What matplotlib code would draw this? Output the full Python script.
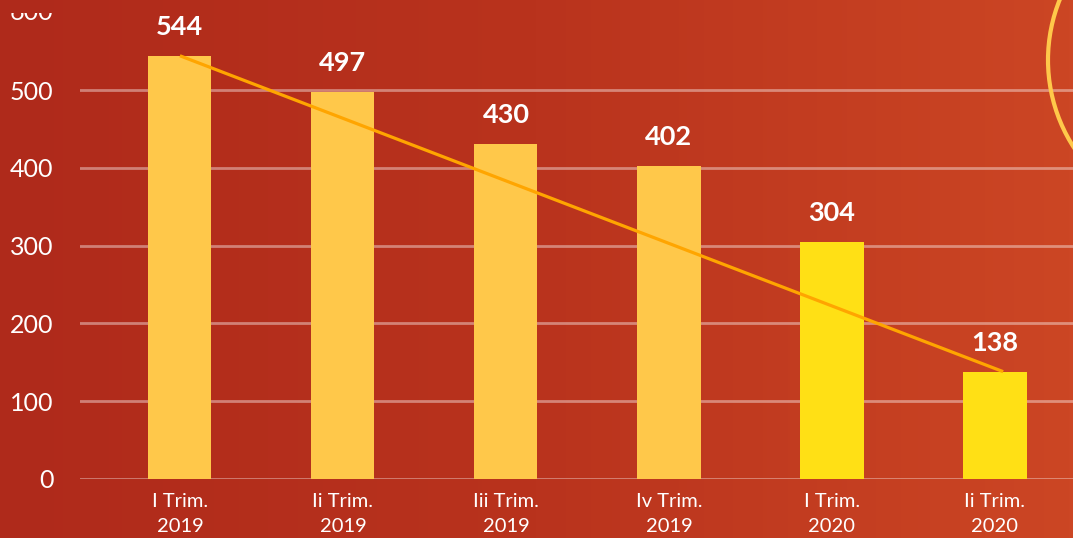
import numpy as np
import matplotlib
matplotlib.use("Agg")
import matplotlib.pyplot as plt
from matplotlib.patches import Circle
from matplotlib.transforms import Bbox
from matplotlib.colors import LinearSegmentedColormap

categories = ["I Trim.\n2019", "Ii Trim.\n2019", "Iii Trim.\n2019",
              "Iv Trim.\n2019", "I Trim.\n2020", "Ii Trim.\n2020"]
values = [544, 497, 430, 402, 304, 138]
bar_colors = ["#FFC84A", "#FFC84A", "#FFC84A", "#FFC84A", "#FFE015", "#FFE015"]
yticks = [0, 100, 200, 300, 400, 500]

W, H = 1073, 538
fig = plt.figure(figsize=(W / 100, H / 100), dpi=100)

# gradient background
bg = fig.add_axes([0, 0, 1, 1], zorder=0)
grad = np.linspace(0, 1, 256)[None, :]
cmap = LinearSegmentedColormap.from_list("bg", ["#AF2A1B", "#B9331D", "#CC4624"])
bg.imshow(grad, aspect="auto", cmap=cmap, extent=[0, 1, 0, 1])
bg.set_xlim(0, 1)
bg.set_ylim(0, 1)
bg.axis("off")

# main axes: x0 at px 80, y=0 at px 479
ax_left = 80 / W
ax_bottom = (H - 479) / H
ppu = 389 / 500.0
top_val = 598
ax_h = (top_val * ppu) / H
ax = fig.add_axes([ax_left, ax_bottom, 1 - ax_left, ax_h], zorder=1)
ax.set_facecolor("none")

x = np.arange(len(values))
ax.bar(x, values, width=0.387, color=bar_colors, zorder=3)
ax.set_xlim(-0.613, (W - 180) / 163.0)
ax.set_ylim(0, top_val)

# trend line from first to last value
ax.plot([x[0], x[-1] + 0.05], [values[0], values[-1]], color="#FFA500", lw=2.3, zorder=4,
        solid_capstyle="butt")

for xi, v in zip(x, values):
    ax.annotate(str(v), (xi, v), xytext=(0, 29), textcoords="offset pixels",
                ha="center", va="center", color="white", fontsize=19.5,
                fontweight="bold", family="Lato", zorder=5)

ax.set_yticks(yticks)
ax.set_yticklabels([str(t) for t in yticks], family="Lato", fontsize=18, color="white")
ax.set_xticks(x)
ax.set_xticklabels(categories, family="Lato", fontsize=14.5, color="white", linespacing=1.6)
ax.tick_params(axis="both", length=0)
ax.tick_params(axis="y", pad=19)
ax.tick_params(axis="x", pad=10)
ax.grid(axis="y", color="white", alpha=0.4, lw=2, zorder=1)
for s in ax.spines.values():
    s.set_visible(False)

# partially hidden 600 label
t = ax.annotate("600", (0, 600), xycoords=("axes fraction", "data"), xytext=(-19, 0),
                textcoords="offset points", ha="right", va="center", color="white",
                fontsize=18, family="Lato", annotation_clip=False)
t.set_clip_box(Bbox.from_extents(0, 0, W, H - 13))
t.set_clip_on(True)

# decorative ring top-right
ov = fig.add_axes([0, 0, 1, 1], zorder=2)
ov.set_xlim(0, W)
ov.set_ylim(H, 0)
ov.axis("off")
ov.add_patch(Circle((1209, 60), 161, fill=False, ec="#FFC84A", lw=3))

fig.savefig("out.png", dpi=100)
